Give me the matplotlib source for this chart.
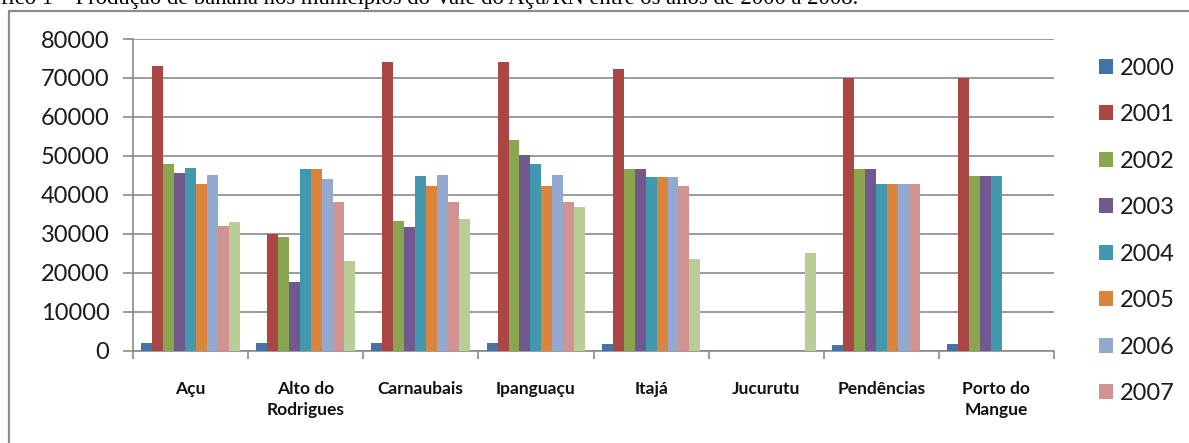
import numpy as np
import matplotlib
matplotlib.use("Agg")
import matplotlib.pyplot as plt
from matplotlib.patches import Rectangle

# municipalities (x categories)
categories = ["Açu", "Alto do\nRodrigues", "Carnaubais", "Ipanguaçu",
              "Itajá", "Jucurutu", "Pendências", "Porto do\nMangue"]

years = ["2000", "2001", "2002", "2003", "2004", "2005", "2006", "2007", "2008"]

# production per year, one value per municipality
v2000 = [2000, 2000, 2000, 2000, 1800, 0, 1500, 1800]
v2001 = [73000, 30000, 74000, 74000, 72300, 0, 70000, 70000]
v2002 = [48000, 29200, 33300, 54000, 46700, 0, 46600, 44800]
v2003 = [45700, 17600, 31800, 50100, 46700, 0, 46600, 44800]
v2004 = [47000, 46700, 44800, 48000, 44500, 0, 42800, 44800]
v2005 = [42800, 46700, 42300, 42300, 44500, 0, 42800, 0]
v2006 = [45100, 44100, 45100, 45100, 44500, 0, 42800, 0]
v2007 = [32000, 38100, 38100, 38100, 42300, 0, 42800, 0]
v2008 = [33000, 23100, 33700, 36800, 23500, 25000, 0, 0]

series = [v2000, v2001, v2002, v2003, v2004, v2005, v2006, v2007, v2008]

colors = ["#4572A7", "#AA4643", "#89A54E", "#71588F", "#4198AF",
          "#DB843D", "#93A9CF", "#D19392", "#B9CD96"]

caption = "Gráfico 1 – Produção de banana nos municípios do Vale do Açu/RN entre os anos de 2000 a 2008."

W, H = 1189, 443
fig = plt.figure(figsize=(W / 100, H / 100), dpi=100)
plt.rcParams["font.family"] = ["Lato", "DejaVu Sans"]

# outer chart frame (runs off the right and bottom edges)
fig.patches.append(Rectangle((9 / W, -0.1), 1.2, 1.1 - 11 / H,
                             transform=fig.transFigure, fill=False,
                             edgecolor="#8c8c8c", linewidth=1.6))

# caption is cut by the top and left edges, as in the scan
fig.text(858 / W, 1 - 4 / H, caption, ha="right", va="baseline",
         family="Liberation Serif", fontsize=16.3, color="black")

ax = fig.add_axes([133 / W, (H - 350.7) / H, 921 / W, 311.7 / H])

n = len(series)
bw = 1.0 / (n + 1.5)
x = np.arange(len(categories))
handles = []
for i, (vals, c, yr) in enumerate(zip(series, colors, years)):
    b = ax.bar(x + (i - (n - 1) / 2) * bw, vals, width=bw, color=c, label=yr,
               edgecolor="none", zorder=3)
    handles.append(b)

ax.set_xlim(-0.5, len(categories) - 0.5)
ax.set_ylim(0, 80000)
ax.set_yticks(np.arange(0, 80001, 10000))
ax.yaxis.grid(True, color="#8a8a8a", linewidth=1.2, zorder=0)
ax.set_axisbelow(True)

for s in ["top", "right"]:
    ax.spines[s].set_visible(False)
for s in ["left", "bottom"]:
    ax.spines[s].set_color("#8a8a8a")
    ax.spines[s].set_linewidth(1.2)

ax.tick_params(axis="y", length=7, width=1.2, color="#8a8a8a", pad=10,
               labelsize=17, labelcolor="#1a1a1a")
ax.set_xticks(x)
ax.set_xticklabels(categories, fontsize=12.5, fontweight="bold",
                   color="#111111", linespacing=1.35)
ax.set_xticks(np.arange(-0.5, len(categories) + 0.5, 1), minor=True)
ax.tick_params(axis="x", which="major", length=0, pad=22)
ax.tick_params(axis="x", which="minor", length=6, width=1.2, color="#8a8a8a")

# the last legend entry (2008) does not fit in the frame of the original
fig.legend(handles[:8], years[:8], loc="upper left",
           bbox_to_anchor=(1087 / W, 1 - 46 / H),
           frameon=False, fontsize=17, handlelength=0.6, handleheight=0.6,
           handletextpad=0.3, labelspacing=1.08, borderpad=0,
           labelcolor="#1a1a1a")

fig.savefig("out.png", dpi=100)
